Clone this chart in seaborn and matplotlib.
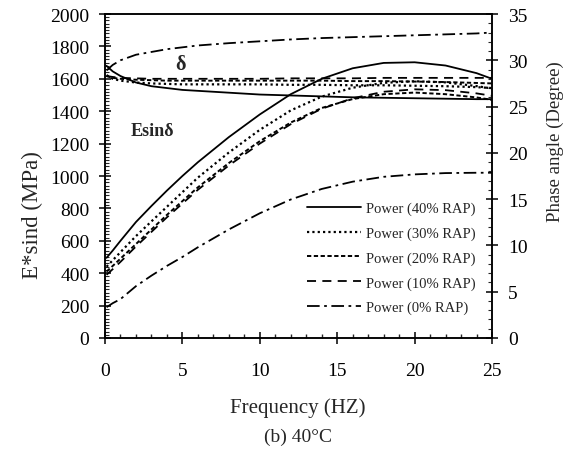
import matplotlib
matplotlib.use("Agg")
import matplotlib.pyplot as plt
import seaborn as sns
import pandas as pd
from matplotlib.ticker import MultipleLocator
from matplotlib.lines import Line2D

# ---------------- data ----------------
freq = [0.1, 0.5, 1, 2, 3, 4, 5, 6, 8, 10, 12, 14, 16, 18, 20, 22, 24, 25]

esind_40 = [495, 540, 600, 716, 815, 910, 1000, 1085, 1240, 1380, 1505, 1600, 1665, 1698, 1702, 1682, 1635, 1600]
esind_30 = [440, 480, 530, 629, 720, 810, 900, 990, 1145, 1285, 1405, 1490, 1545, 1575, 1585, 1578, 1555, 1540]
esind_20 = [410, 445, 490, 580, 670, 760, 845, 930, 1080, 1215, 1330, 1420, 1475, 1505, 1515, 1505, 1485, 1470]
esind_10 = [390, 425, 470, 565, 655, 745, 830, 915, 1065, 1200, 1320, 1415, 1480, 1520, 1535, 1530, 1510, 1495]
esind_0 = [190, 215, 240, 320, 385, 445, 500, 560, 670, 770, 855, 920, 965, 995, 1010, 1018, 1020, 1020]

delta_40 = [29.4, 28.8, 28.3, 27.6, 27.2, 27.0, 26.8, 26.7, 26.5, 26.3, 26.2, 26.1, 26.0, 25.95, 25.9, 25.85, 25.8, 25.8]
delta_30 = [28.4, 28.0, 27.8, 27.6, 27.5, 27.45, 27.4, 27.4, 27.4, 27.4, 27.35, 27.35, 27.3, 27.3, 27.25, 27.2, 27.1, 27.0]
delta_20 = [28.3, 28.1, 28.0, 27.9, 27.85, 27.8, 27.8, 27.8, 27.8, 27.8, 27.8, 27.8, 27.75, 27.75, 27.7, 27.65, 27.55, 27.5]
delta_10 = [28.3, 28.2, 28.1, 28.05, 28.0, 28.0, 28.0, 28.0, 28.0, 28.0, 28.05, 28.05, 28.05, 28.1, 28.1, 28.1, 28.1, 28.1]
delta_0 = [28.9, 29.5, 30.0, 30.6, 30.9, 31.2, 31.4, 31.6, 31.85, 32.05, 32.25, 32.4, 32.5, 32.6, 32.7, 32.8, 32.9, 33.0]

series_labels = ["Power (40% RAP)", "Power (30% RAP)", "Power (20% RAP)",
                 "Power (10% RAP)", "Power (0% RAP)"]
esind_all = [esind_40, esind_30, esind_20, esind_10, esind_0]
delta_all = [delta_40, delta_30, delta_20, delta_10, delta_0]

x_ticks = [0, 5, 10, 15, 20, 25]
left_ticks = list(range(0, 2001, 200))
right_ticks = list(range(0, 36, 5))

# ---------------- styling ----------------
sns.set_style("ticks")
plt.rcParams["font.family"] = ["Liberation Serif", "DejaVu Serif"]

line_styles = ["-", (0, (1, 1.4)), (0, (2.2, 1.3)), (0, (5, 3.5)), (0, (7, 2.5, 1.5, 2.5))]
line_widths = [1.3, 1.6, 1.4, 1.3, 1.3]

fig = plt.figure(figsize=(5.66, 4.52), dpi=100)
ax = fig.add_axes([105 / 566, 1 - 339 / 452, (492 - 105) / 566, (339 - 15) / 452])
ax2 = ax.twinx()

handles = []
for lab, e, d, ls, w in zip(series_labels, esind_all, delta_all, line_styles, line_widths):
    df = pd.DataFrame({"f": freq, "e": e, "d": d})
    sns.lineplot(data=df, x="f", y="e", ax=ax, color="black", linestyle=ls, lw=w)
    sns.lineplot(data=df, x="f", y="d", ax=ax2, color="black", linestyle=ls, lw=w)
    handles.append(Line2D([], [], color="black", linestyle=ls, lw=w))

ax.set_xlim(0, 25)
ax.set_ylim(0, 2000)
ax2.set_ylim(0, 35)
ax.set_xticks(x_ticks)
ax.set_yticks(left_ticks)
ax2.set_yticks(right_ticks)
ax.xaxis.set_minor_locator(MultipleLocator(1))
ax.yaxis.set_minor_locator(MultipleLocator(20))
ax2.yaxis.set_minor_locator(MultipleLocator(1))
ax.set_xlabel("")
ax.set_ylabel("")
ax2.set_ylabel("")

for a in (ax, ax2):
    for s in a.spines.values():
        s.set_color("black")
        s.set_linewidth(1.1)
        s.set_visible(True)

ax.tick_params(axis="x", which="major", direction="inout", length=8.5, width=1.1,
               labelsize=14, pad=13, colors="black", top=False)
ax.tick_params(axis="x", which="minor", direction="in", length=3, width=1.0, top=False)
ax.tick_params(axis="y", which="major", direction="inout", length=8.5, width=1.1,
               labelsize=14, pad=7, colors="black", right=False)
ax.tick_params(axis="y", which="minor", direction="in", length=3, width=0.8, right=False)
ax2.tick_params(axis="y", which="major", direction="inout", length=8.5, width=1.1,
                labelsize=14, pad=7.5, colors="black")
ax2.tick_params(axis="y", which="minor", direction="in", length=3, width=0.8)

# in-plot annotations
ax.text(180 / 566, 1 - 65 / 452, "δ", transform=fig.transFigure, ha="center", va="center",
        fontsize=14.5, fontweight="bold")
ax.text(152 / 566, 1 - 132 / 452, "Esinδ", transform=fig.transFigure, ha="center", va="center",
        fontsize=13, fontweight="bold")

# legend
ax.legend(handles, series_labels, loc="center", bbox_to_anchor=(391 / 566, 1 - 259 / 452),
          bbox_transform=fig.transFigure, frameon=False, fontsize=10.5,
          handlelength=3.7, handletextpad=0.35, labelspacing=0.78, borderpad=0)

# axis titles
fig.text(298 / 566, 1 - 408 / 452, "Frequency (HZ)", ha="center", va="center", fontsize=15)
fig.text(298 / 566, 1 - 437 / 452, "(b) 40°C", ha="center", va="center", fontsize=14)
fig.text(32 / 566, 1 - 215 / 452, "E*sind (MPa)", ha="center", va="center", rotation=90, fontsize=16.5)
fig.text(555 / 566, 1 - 142 / 452, "Phase angle (Degree)", ha="center", va="center", rotation=90, fontsize=13.5)

fig.savefig("out.png", dpi=100, facecolor="white")
